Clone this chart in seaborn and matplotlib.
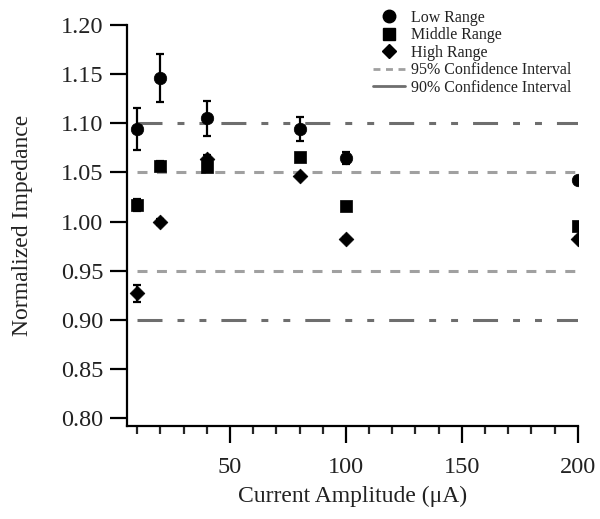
import numpy as np
import pandas as pd
import seaborn as sns
import matplotlib.pyplot as plt
from matplotlib.lines import Line2D

# Data
current = [10, 20, 40, 80, 100, 200]
low_mean = [1.094, 1.146, 1.105, 1.094, 1.065, 1.042]
low_err = [0.021, 0.024, 0.018, 0.012, 0.006, 0.002]
mid_mean = [1.017, 1.057, 1.055, 1.066, 1.016, 0.996]
mid_err = [0.006, 0.005, 0.004, 0.002, 0.002, 0.002]
high_mean = [0.927, 1.000, 1.064, 1.046, 0.982, 0.982]
high_err = [0.009, 0.003, 0.004, 0.002, 0.002, 0.002]
ci95 = [0.95, 1.05]
ci90 = [0.90, 1.10]
ci_span = [10, 200]

series = [
    ("Low Range", low_mean, low_err, "o", 9),
    ("Middle Range", mid_mean, mid_err, "s", 8),
    ("High Range", high_mean, high_err, "D", 7.5),
]

sns.set_style("ticks")
plt.rcParams['font.family'] = ['Liberation Serif', 'DejaVu Serif']
plt.rcParams['lines.scale_dashes'] = False

fig = plt.figure(figsize=(6, 5.19), dpi=100)
ax = fig.add_axes([0.2117, 0.179, 0.7513, 0.773])

# confidence interval lines
for y in ci95:
    ax.plot(ci_span, [y, y], color='#a0a0a0', lw=2.2, linestyle=(0, (7.2, 6.8)), zorder=1)
for y in ci90:
    ax.plot(ci_span, [y, y], color='#6e6e6e', lw=2.2,
            linestyle=(0, (18, 10.8, 5, 10.8, 5, 10.8)), zorder=1)

for name, mean, err, mk, ms in series:
    df = pd.DataFrame({"current": current, "impedance": mean, "err": err})
    ax.errorbar(df["current"], df["impedance"], yerr=df["err"], fmt='none',
                ecolor='black', elinewidth=1.6, capsize=3, capthick=1.6, zorder=2)
    sns.scatterplot(data=df, x="current", y="impedance", ax=ax, marker=mk,
                    s=ms ** 2, color='black', edgecolor='black', linewidth=0.5, zorder=3)

ax.set_xlim(5.6, 200)
ax.set_ylim(0.792, 1.20)
ax.set_xticks([50, 100, 150, 200])
ax.set_xticks([10, 20, 30, 40, 60, 70, 80, 90, 110, 120, 130, 140, 160, 170, 180, 190], minor=True)
ax.set_yticks(np.arange(0.80, 1.201, 0.05))
ax.set_yticklabels([f"{v:.2f}" for v in np.arange(0.80, 1.201, 0.05)])
ax.tick_params(axis='both', which='major', labelsize=17.5, width=1.6, length=12, color='black', labelcolor='#222222')
ax.tick_params(axis='x', which='major', pad=10)
ax.tick_params(axis='x', which='minor', length=6, width=1.6)
ax.tick_params(axis='y', which='major', pad=5)

for side in ['top', 'right']:
    ax.spines[side].set_visible(False)
for side in ['left', 'bottom']:
    ax.spines[side].set_linewidth(1.6)
    ax.spines[side].set_color('black')

ax.set_xlabel("Current Amplitude (\u03bcA)", fontsize=17, color='#222222', labelpad=6)
ax.set_ylabel("Normalized Impedance", fontsize=17, color='#222222', labelpad=20)

handles = [
    Line2D([], [], marker='o', color='black', linestyle='none', markersize=9),
    Line2D([], [], marker='s', color='black', linestyle='none', markersize=8),
    Line2D([], [], marker='D', color='black', linestyle='none', markersize=7.5),
    Line2D([], [], color='#a0a0a0', lw=2, linestyle=(0, (5, 4))),
    Line2D([], [], color='#6e6e6e', lw=2),
]
labels = ["Low Range", "Middle Range", "High Range",
          "95% Confidence Interval", "90% Confidence Interval"]
fig.legend(handles, labels, loc='upper left', bbox_to_anchor=(0.605, 1.0),
           frameon=False, fontsize=11.5, handlelength=2.0, handletextpad=0.4,
           labelspacing=0.1, borderpad=0.1, labelcolor='#222222')

fig.savefig("out.png", dpi=100)
